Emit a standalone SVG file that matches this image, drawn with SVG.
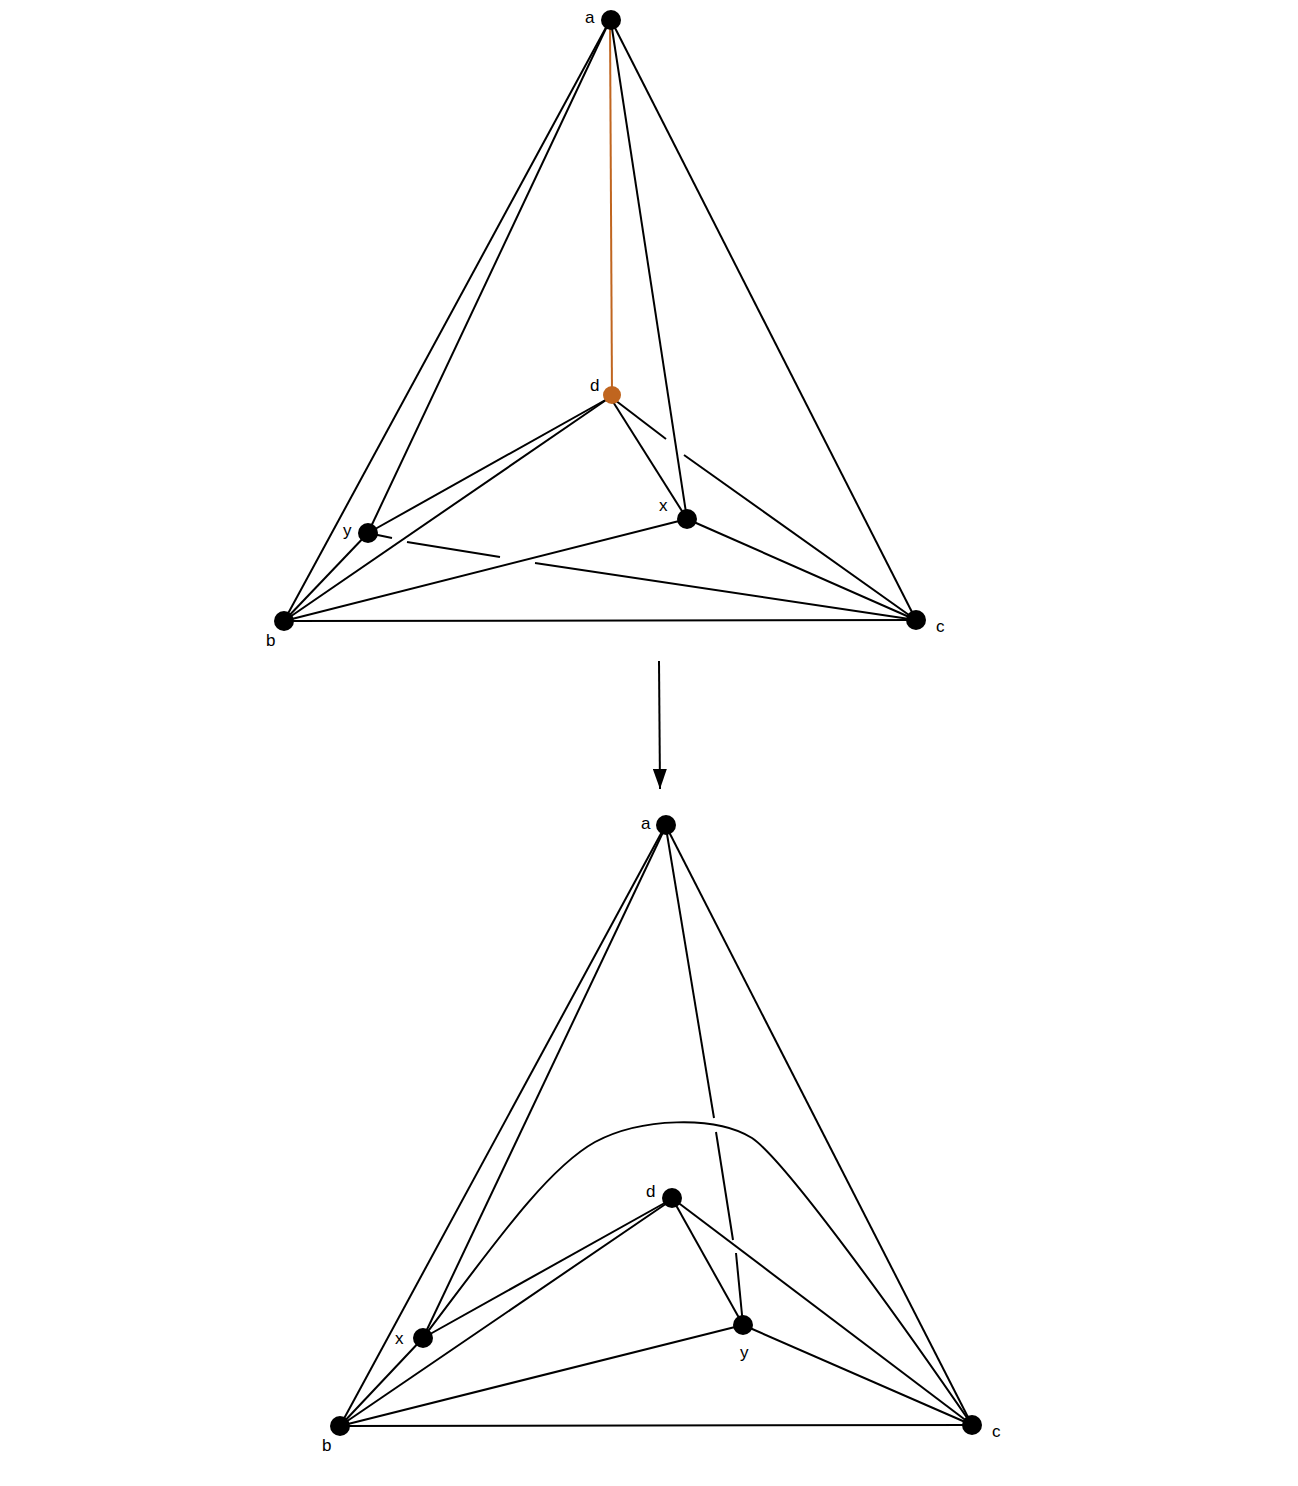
<svg xmlns="http://www.w3.org/2000/svg" width="1298" height="1486" viewBox="0 0 1298 1486">
<style>
.e{stroke:#000;stroke-width:2;fill:none;stroke-linecap:butt}
.n{fill:#000}
.t{font-family:"Liberation Sans",Arial,sans-serif;font-size:17px;fill:#000}
</style>
<defs>
<marker id="ah" markerWidth="20" markerHeight="14" refX="20" refY="7" orient="auto" markerUnits="userSpaceOnUse" viewBox="0 0 20 14">
<path d="M0,0 L20,7 L0,14 Z" fill="#000"/>
</marker>
</defs>
<rect width="1298" height="1486" fill="#fff"/>
<g id="connectors">
<!-- top graph -->
<line class="e" x1="609" y1="22" x2="284" y2="621"/>
<line class="e" x1="609" y1="22" x2="368" y2="533"/>
<line class="e" x1="611" y1="22" x2="687" y2="519"/>
<line class="e" x1="612" y1="22" x2="916" y2="620"/>
<line x1="610" y1="22" x2="612" y2="395" stroke="#c0651f" stroke-width="2"/>
<line class="e" x1="609" y1="398" x2="368" y2="533"/>
<line class="e" x1="609" y1="398" x2="284" y2="621"/>
<line class="e" x1="610" y1="397" x2="687" y2="519"/>
<line class="e" x1="611" y1="397" x2="666" y2="439"/>
<line class="e" x1="684" y1="455" x2="916" y2="620"/>
<line class="e" x1="687" y1="519" x2="284" y2="621"/>
<line class="e" x1="687" y1="519" x2="916" y2="620"/>
<line class="e" x1="368" y1="533" x2="284" y2="621"/>
<line class="e" x1="368" y1="533" x2="392" y2="538"/>
<line class="e" x1="407" y1="542" x2="500" y2="557"/>
<line class="e" x1="535" y1="563" x2="916" y2="620"/>
<line class="e" x1="284" y1="621" x2="916" y2="620"/>
<!-- arrow -->
<line class="e" x1="659" y1="661" x2="660" y2="789" marker-end="url(#ah)"/>
<!-- bottom graph -->
<line class="e" x1="664" y1="828" x2="340" y2="1426"/>
<line class="e" x1="665" y1="828" x2="423" y2="1338"/>
<line class="e" x1="667" y1="828" x2="972" y2="1425"/>
<line class="e" x1="666" y1="828" x2="714" y2="1118"/>
<line class="e" x1="716" y1="1132" x2="733" y2="1240"/>
<line class="e" x1="736" y1="1253" x2="743" y2="1325"/>
<path class="e" d="M423,1338 C490,1250 545,1170 595,1142 C640,1118 715,1115 752,1138 C785,1160 900,1320 972,1425"/>
<line class="e" x1="670" y1="1200" x2="423" y2="1338"/>
<line class="e" x1="670" y1="1201" x2="340" y2="1426"/>
<line class="e" x1="672" y1="1198" x2="743" y2="1325"/>
<line class="e" x1="672" y1="1198" x2="972" y2="1425"/>
<line class="e" x1="423" y1="1338" x2="340" y2="1426"/>
<line class="e" x1="743" y1="1325" x2="340" y2="1426"/>
<line class="e" x1="743" y1="1325" x2="972" y2="1425"/>
<line class="e" x1="340" y1="1426" x2="972" y2="1425"/>
</g>
<g id="top-a"><circle class="n" cx="611" cy="20" r="10"/><text class="t" x="585" y="23">a</text></g>
<g id="top-d"><circle cx="612" cy="395" r="9" fill="#c0651f"/><text class="t" x="590" y="391">d</text></g>
<g id="top-x"><circle class="n" cx="687" cy="519" r="10"/><text class="t" x="659" y="511">x</text></g>
<g id="top-y"><circle class="n" cx="368" cy="533" r="10"/><text class="t" x="343" y="536">y</text></g>
<g id="top-b"><circle class="n" cx="284" cy="621" r="10"/><text class="t" x="266" y="646">b</text></g>
<g id="top-c"><circle class="n" cx="916" cy="620" r="10"/><text class="t" x="936" y="632">c</text></g>
<g id="bot-a"><circle class="n" cx="666" cy="825" r="10"/><text class="t" x="641" y="829">a</text></g>
<g id="bot-d"><circle class="n" cx="672" cy="1198" r="10"/><text class="t" x="646" y="1197">d</text></g>
<g id="bot-x"><circle class="n" cx="423" cy="1338" r="10"/><text class="t" x="395" y="1344">x</text></g>
<g id="bot-y"><circle class="n" cx="743" cy="1325" r="10"/><text class="t" x="740" y="1358">y</text></g>
<g id="bot-b"><circle class="n" cx="340" cy="1426" r="10"/><text class="t" x="322" y="1451">b</text></g>
<g id="bot-c"><circle class="n" cx="972" cy="1425" r="10"/><text class="t" x="992" y="1437">c</text></g>
</svg>
